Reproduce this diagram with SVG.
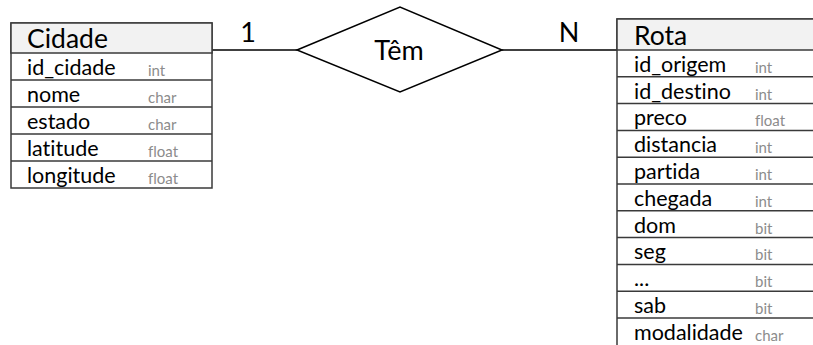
<svg xmlns="http://www.w3.org/2000/svg" width="813" height="345" viewBox="0 0 813 345">
  <style>
    text { font-variant-ligatures: none; font-feature-settings: "liga" 0, "clig" 0; }
    .box { fill: #ffffff; stroke: #3a3a3a; stroke-width: 1.5; }
    .head { fill: #f2f2f2; stroke: #3a3a3a; stroke-width: 1.5; }
    .row { stroke: #3a3a3a; stroke-width: 1.5; }
    .title { font-family: Lato, "Liberation Sans", sans-serif; font-size: 26.5px; fill: #000; }
    .name { font-family: Lato, "Liberation Sans", sans-serif; font-size: 21.5px; fill: #000; }
    .type { font-family: Lato, "Liberation Sans", sans-serif; font-size: 15px; fill: #8c8c8c; }
    .lbl { font-family: Lato, "Liberation Sans", sans-serif; font-size: 27px; fill: #000; }
    .edge { stroke: #000; stroke-width: 1.5; fill: none; }
  </style>

  <!-- connectors between entities and relationship -->
  <g id="connectors">
    <line class="edge" x1="212" y1="50" x2="297" y2="50"/>
    <line class="edge" x1="502" y1="50" x2="617" y2="50"/>
    <text class="lbl" x="248" y="42" text-anchor="middle">1</text>
    <text class="lbl" x="569" y="42" text-anchor="middle">N</text>
  </g>

  <!-- relationship -->
  <g id="tem">
    <polygon points="297,50 400,7 502,50 400,92" fill="#ffffff" stroke="#000" stroke-width="1.5"/>
    <text class="lbl" x="399" y="60" text-anchor="middle">Têm</text>
  </g>

  <!-- entity Cidade -->
  <g id="cidade">
    <rect class="box" x="11" y="23" width="201" height="165"/>
    <rect class="head" x="11" y="23" width="201" height="30"/>
    <line class="row" x1="11" y1="80" x2="212" y2="80"/>
    <line class="row" x1="11" y1="107" x2="212" y2="107"/>
    <line class="row" x1="11" y1="134" x2="212" y2="134"/>
    <line class="row" x1="11" y1="161" x2="212" y2="161"/>
    <text class="title" x="27" y="48">Cidade</text>
    <text class="name" x="27" y="75">id_cidade</text><text class="type" x="148" y="76">int</text>
    <text class="name" x="27" y="102">nome</text><text class="type" x="148" y="103">char</text>
    <text class="name" x="27" y="129">estado</text><text class="type" x="148" y="130">char</text>
    <text class="name" x="27" y="156">latitude</text><text class="type" x="148" y="157">float</text>
    <text class="name" x="27" y="183">longitude</text><text class="type" x="148" y="184">float</text>
  </g>

  <!-- entity Rota -->
  <g id="rota">
    <rect class="box" x="617" y="19" width="220" height="340"/>
    <rect class="head" x="617" y="19" width="220" height="31"/>
    <line class="row" x1="617" y1="76.8" x2="813" y2="76.8"/>
    <line class="row" x1="617" y1="103.6" x2="813" y2="103.6"/>
    <line class="row" x1="617" y1="130.4" x2="813" y2="130.4"/>
    <line class="row" x1="617" y1="157.2" x2="813" y2="157.2"/>
    <line class="row" x1="617" y1="184" x2="813" y2="184"/>
    <line class="row" x1="617" y1="210.8" x2="813" y2="210.8"/>
    <line class="row" x1="617" y1="237.6" x2="813" y2="237.6"/>
    <line class="row" x1="617" y1="264.4" x2="813" y2="264.4"/>
    <line class="row" x1="617" y1="291.2" x2="813" y2="291.2"/>
    <line class="row" x1="617" y1="318" x2="813" y2="318"/>
    <text class="title" x="634" y="45">Rota</text>
    <text class="name" x="634" y="72">id_origem</text><text class="type" x="755" y="73">int</text>
    <text class="name" x="634" y="99">id_destino</text><text class="type" x="755" y="100">int</text>
    <text class="name" x="634" y="125">preco</text><text class="type" x="755" y="126">float</text>
    <text class="name" x="634" y="152">distancia</text><text class="type" x="755" y="153">int</text>
    <text class="name" x="634" y="179">partida</text><text class="type" x="755" y="180">int</text>
    <text class="name" x="634" y="206">chegada</text><text class="type" x="755" y="207">int</text>
    <text class="name" x="634" y="233">dom</text><text class="type" x="755" y="234">bit</text>
    <text class="name" x="634" y="259">seg</text><text class="type" x="755" y="260">bit</text>
    <text class="name" x="634" y="286">...</text><text class="type" x="755" y="287">bit</text>
    <text class="name" x="634" y="313">sab</text><text class="type" x="755" y="314">bit</text>
    <text class="name" x="634" y="340">modalidade</text><text class="type" x="755" y="341">char</text>
  </g>
</svg>
